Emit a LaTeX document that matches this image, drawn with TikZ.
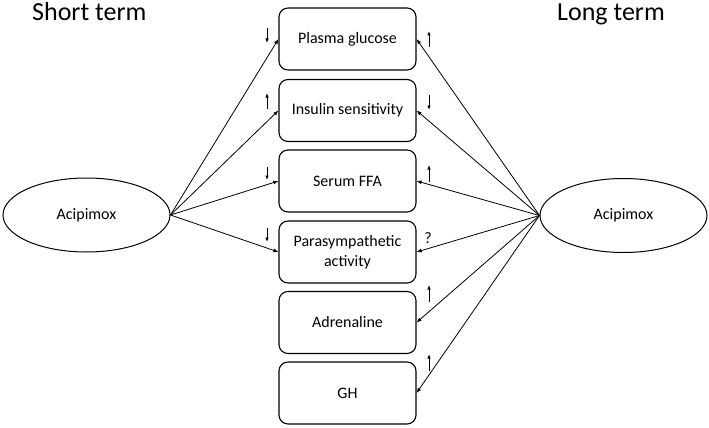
\documentclass[tikz,border=0pt]{standalone}
\usepackage{fontspec}
\setmainfont{Carlito}
\usetikzlibrary{arrows.meta,shapes.geometric}
\begin{document}
\begin{tikzpicture}[x=1pt,y=-1pt,
  box/.style={draw,rounded corners=9pt,minimum width=137pt,minimum height=62pt,
    line width=1.1pt,align=center,inner sep=0pt,font=\fontsize{16}{19.5}\selectfont},
  ell/.style={draw,ellipse,minimum width=167pt,minimum height=74pt,inner sep=0pt,
    line width=1pt,font=\fontsize{16}{19.5}\selectfont},
  conn/.style={line width=0.8pt,-{Latex[length=5pt,width=4pt]}},
  trend/.style={line width=0.9pt,-{Latex[length=4.5pt,width=3.5pt]}},
  title/.style={anchor=base west,inner sep=0pt,font=\fontsize{26}{30}\selectfont}]
\useasboundingbox (0,0) rectangle (709,428);
\node[title] (st) at (32,21) {Short term};
\node[title] (lt) at (557,21) {Long term};
\node[ell] (L) at (86.5,215) {Acipimox};
\node[ell] (R) at (623.5,215.5) {Acipimox};
\node[box] (b1) at (347.5,39) {Plasma glucose};
\node[box] (b2) at (347.5,110.5) {Insulin sensitivity};
\node[box] (b3) at (347.5,181) {Serum FFA};
\node[box] (b4) at (347.5,252) {Parasympathetic\\activity};
\node[box] (b5) at (347.5,322.5) {Adrenaline};
\node[box] (b6) at (347.5,393) {GH};
\foreach \b in {b1,b2,b3,b4} \draw[conn] (L.east) -- (\b.west);
\foreach \b in {b1,b2,b3,b4,b5,b6} \draw[conn] (R.west) -- (\b.east);
% short-term trends
\draw[trend] (267,28) -- (267,43);
\draw[trend] (267,109) -- (267,93);
\draw[trend] (267,167) -- (267,180);
\draw[trend] (267,228) -- (267,242);
% long-term trends
\draw[trend] (429,47) -- (429,31);
\draw[trend] (429,95) -- (429,110);
\draw[trend] (429,182) -- (429,165);
\node[font=\fontsize{16}{19.5}\selectfont,inner sep=0pt] (q) at (428,238) {?};
\draw[trend] (429,302) -- (429,285);
\draw[trend] (429,371) -- (429,354);
\end{tikzpicture}
\end{document}
